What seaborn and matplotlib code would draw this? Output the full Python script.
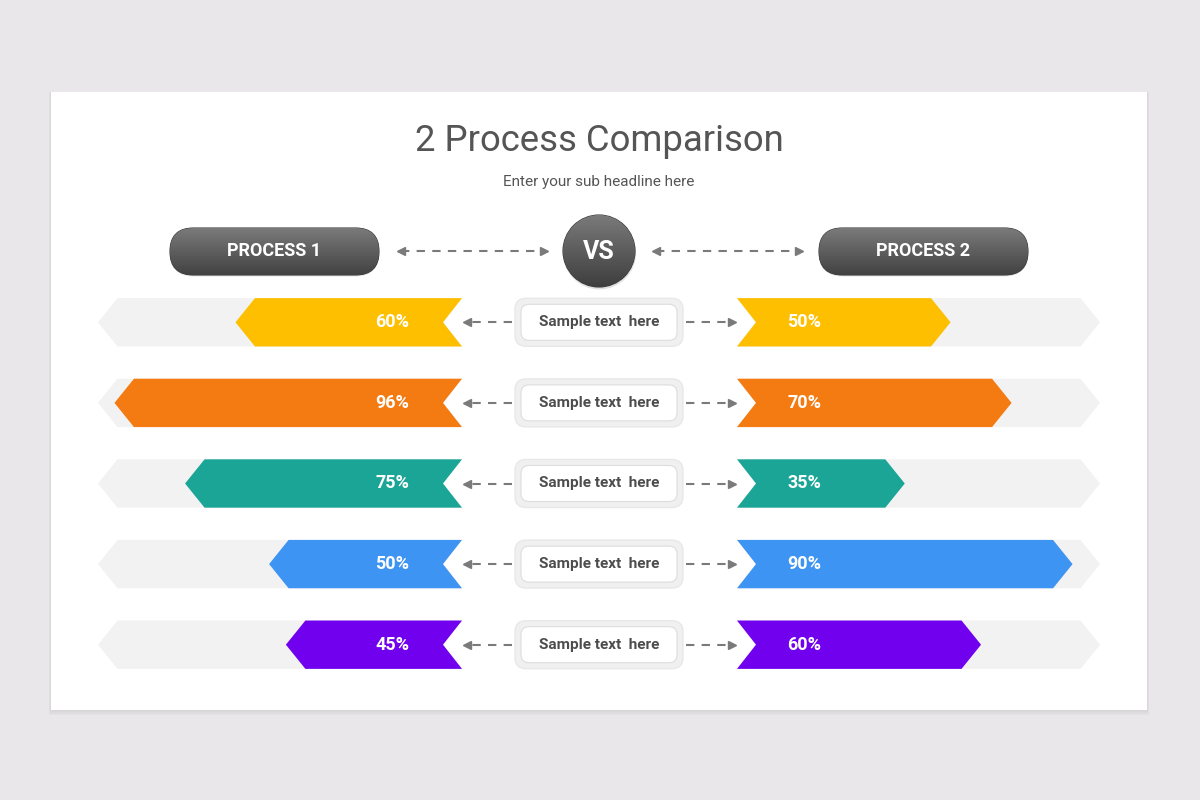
import numpy as np
import pandas as pd
import seaborn as sns
import matplotlib.pyplot as plt
from matplotlib.patches import Polygon, FancyBboxPatch, Circle, Rectangle
from matplotlib.colors import to_rgb

######### data #######################################
row_labels = ["Sample text  here"] * 5
process1 = [60, 96, 75, 50, 45]
process2 = [50, 70, 35, 90, 60]
bar_colors = ["#FDBF00", "#F37B12", "#1BA597", "#3E94F2", "#7000EE"]

title = "2 Process Comparison"
subtitle = "Enter your sub headline here"
head_left = "PROCESS 1"
head_right = "PROCESS 2"
head_mid = "VS"

df = pd.DataFrame({"row": range(len(process1)), "label": row_labels,
                   "p1": process1, "p2": process2, "color": bar_colors})

######### style ####################
sns.set_theme(style="white")
plt.rcParams["font.family"] = ["Roboto", "DejaVu Sans"]
palette = sns.color_palette(bar_colors)

W, H = 1200, 800
fig = plt.figure(figsize=(12, 8), dpi=100)
fig.patch.set_facecolor("#E9E7E9")

# pixel-space axes for the slide decorations
bg = fig.add_axes([0, 0, 1, 1])
bg.axis("off")

# card + soft shadow (mostly below)
for k in range(1, 7):
    bg.add_patch(Rectangle((51 - k * 0.4, 92), 1096 + k * 0.8, 618 + k * 0.9,
                           facecolor="#000000", alpha=0.012, lw=0, zorder=0))
bg.add_patch(Rectangle((51, 92), 1096, 618, facecolor="white", lw=0, zorder=1))

bg.text(599, 141, title, ha="center", va="center", fontsize=26.3, color="#555555", zorder=5)
bg.text(599, 182, subtitle, ha="center", va="center", fontsize=11, color="#555555", zorder=5)


def gradient_fill(patch, top, bottom, x0, x1, y0, y1):
    bg.add_patch(patch)
    t = np.linspace(0, 1, 64)[:, None, None]
    img = (1 - t) * np.array(to_rgb(top)) + t * np.array(to_rgb(bottom))
    im = bg.imshow(img, extent=(x0, x1, y1, y0), origin="upper", aspect="auto",
                   zorder=patch.get_zorder() + 0.1, interpolation="bilinear")
    im.set_clip_path(patch)


def pill(x0, x1, y0, y1, text):
    r = (y1 - y0) / 2
    bg.add_patch(FancyBboxPatch((x0, y0 + 1.5), x1 - x0, y1 - y0,
                                boxstyle=f"round,pad=0,rounding_size={r}",
                                facecolor="black", alpha=0.10, lw=0, zorder=2))
    p = FancyBboxPatch((x0, y0), x1 - x0, y1 - y0,
                       boxstyle=f"round,pad=0,rounding_size={r}",
                       facecolor="#505050", edgecolor="#3a3a3a", lw=0.8, zorder=3)
    gradient_fill(p, "#7a7a7a", "#424242", x0, x1, y0, y1)
    bg.text((x0 + x1) / 2, (y0 + y1) / 2, text, ha="center", va="center",
            fontsize=13, weight="bold", color="white", zorder=6)


pill(170, 379, 228, 275, head_left)
pill(819, 1028, 228, 275, head_right)

bg.add_patch(Circle((599.5, 253), 36.5, facecolor="black", alpha=0.12, lw=0, zorder=2))
vs = Circle((599, 251), 36, facecolor="#505050", edgecolor="#3a3a3a", lw=0.8, zorder=3)
gradient_fill(vs, "#7a7a7a", "#3e3e3e", 563, 635, 215, 287)
bg.text(599, 252, head_mid, ha="center", va="center", fontsize=18, weight="bold",
        color="white", zorder=6)

arrow_kw = dict(color="#7a7a7a", lw=1.5, linestyle=(0, (4, 3.5)), zorder=4)
head_kw = dict(color="#7a7a7a", markersize=6, linestyle="none", zorder=4)


def dashed_arrow(xa, xb, y, both=False):
    bg.plot([xa, xb], [y, y], **arrow_kw)
    bg.plot([xb], [y], marker=">" if xb > xa else "<", **head_kw)
    if both:
        bg.plot([xa], [y], marker="<" if xb > xa else ">", **head_kw)


dashed_arrow(401, 544, 251, both=True)
dashed_arrow(656, 799, 251, both=True)

######### bar axes (percent scales) ####################
band_top, band_h = 282, 403
row_h = band_h / len(df)


def px_axes(x0, x1):
    ax = fig.add_axes([x0 / W, 1 - (band_top + band_h) / H, (x1 - x0) / W, band_h / H])
    ax.set_ylim(len(df) - 0.5, -0.5)
    ax.axis("off")
    return ax


ax_l = px_axes(98, 462)
ax_l.set_xlim(100.9, -7.4)   # inverted: bars grow to the left
ax_r = px_axes(737, 1100)
ax_r.set_xlim(-20, 99)


def shape(ax, base, v, y, color, tip_px=19.5, notch_px=19, h=0.3, z=2):
    lo, hi = sorted(ax.get_xlim())
    upp = (hi - lo) / (ax.get_position().width * W)
    tip, notch = tip_px * upp, notch_px * upp
    pts = [(base, y - h), (v - tip, y - h), (v, y), (v - tip, y + h),
           (base, y + h), (base + notch, y)]
    ax.add_patch(Polygon(pts, closed=True, facecolor=color, edgecolor="none", zorder=z))


for ax, col, lab_x in [(ax_l, "p1", 0.808), (ax_r, "p2", 0.185)]:
    lo, hi = sorted(ax.get_xlim())
    for _, r in df.iterrows():
        shape(ax, lo, hi, r["row"], "#F2F2F2", z=1)
        shape(ax, lo, r[col], r["row"], palette[r["row"]], z=2)
        ax.text(lab_x, r["row"], f"{r[col]}%", transform=ax.get_yaxis_transform(),
                ha="center", va="center", fontsize=13, weight="bold", color="white", zorder=5)

######### center labels + arrows ####################
for _, r in df.iterrows():
    yc = band_top + (r["row"] + 0.5) * row_h
    bg.add_patch(FancyBboxPatch((515, yc - 24), 168, 48,
                                boxstyle="round,pad=0,rounding_size=11",
                                facecolor="#F0F0F0", edgecolor="#E8E8E8", lw=1, zorder=3))
    bg.add_patch(FancyBboxPatch((521, yc - 18), 156, 36,
                                boxstyle="round,pad=0,rounding_size=8",
                                facecolor="white", edgecolor="#DDDDDD", lw=0.8, zorder=4))
    bg.text(599, yc, r["label"], ha="center", va="center", fontsize=11,
            weight="bold", color="#4D4D4D", zorder=6)
    dashed_arrow(512, 467, yc)
    dashed_arrow(686, 732, yc)

bg.set_xlim(0, W)
bg.set_ylim(H, 0)

fig.savefig("out.png", dpi=100, facecolor=fig.get_facecolor())
